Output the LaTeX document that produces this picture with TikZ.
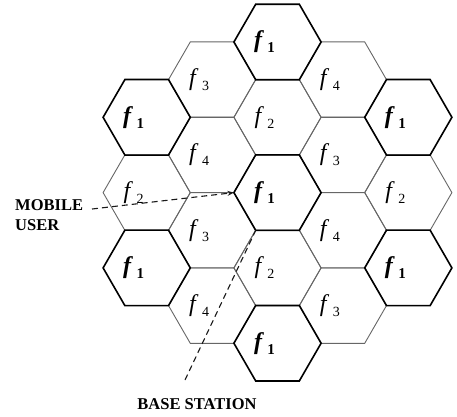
\documentclass[tikz,border=0pt]{standalone}
\usepackage{fontspec}
\setmainfont{Liberation Serif}
\usetikzlibrary{arrows.meta,shapes.geometric}
\newcommand{\fA}[1]{\textbf{\textit{f}}\kern3.5pt\raisebox{-5pt}{\fontsize{15}{15}\selectfont\textbf{#1}}}
\newcommand{\fB}[1]{\textit{f}\kern3.5pt\raisebox{-5pt}{\fontsize{14}{14}\selectfont #1}}

\begin{document}
\begin{tikzpicture}[x=1pt, y=-1pt,
  cell/.style={regular polygon, regular polygon sides=6, minimum size=87.2pt,
    inner sep=0pt, outer sep=0pt},
  plaincell/.style={cell, draw=black!60, line width=0.9pt},
  reusecell/.style={cell, draw=black, line width=1.6pt},
  tag/.style={xshift=-13pt, inner sep=0pt, font=\fontsize{24}{24}\selectfont},
  caption/.style={inner sep=0pt, font=\bfseries\fontsize{16.5}{20}\selectfont, align=left},
  lead/.style={black!90, line width=1.1pt, dash pattern=on 6pt off 4pt},
  arrow/.style={lead, -{Stealth[length=6.5pt, width=5pt]}}
]
  \useasboundingbox (0,0) rectangle (457,416);

  % Cells f2, f3, f4 (thin)
  \node[plaincell] (b1) at (212.1,79.65) {};
  \node[plaincell] (b2) at (212.1,154.95) {};
  \node[plaincell] (b3) at (212.1,230.25) {};
  \node[plaincell] (b4) at (212.1,305.55) {};
  \node[plaincell] (d1) at (342.9,79.65) {};
  \node[plaincell] (d2) at (342.9,154.95) {};
  \node[plaincell] (d3) at (342.9,230.25) {};
  \node[plaincell] (d4) at (342.9,305.55) {};
  \node[plaincell] (c2) at (277.5,117.3) {};
  \node[plaincell] (c4) at (277.5,267.9) {};
  \node[plaincell] (a2) at (146.7,192.6) {};
  \node[plaincell] (e2) at (408.3,192.6) {};

  % Cells f1 (thick)
  \node[reusecell] (c1) at (277.5,42) {};
  \node[reusecell] (c3) at (277.5,192.6) {};
  \node[reusecell] (c5) at (277.5,343.2) {};
  \node[reusecell] (a1) at (146.7,117.3) {};
  \node[reusecell] (a3) at (146.7,267.9) {};
  \node[reusecell] (e1) at (408.3,117.3) {};
  \node[reusecell] (e3) at (408.3,267.9) {};

  % Frequency tags
  \node[tag] (tc1) at (c1) {\fA{1}};
  \node[tag] (tc3) at (c3) {\fA{1}};
  \node[tag] (tc5) at (c5) {\fA{1}};
  \node[tag] (ta1) at (a1) {\fA{1}};
  \node[tag] (ta3) at (a3) {\fA{1}};
  \node[tag] (te1) at (e1) {\fA{1}};
  \node[tag] (te3) at (e3) {\fA{1}};
  \node[tag] (tc2) at (c2) {\fB{2}};
  \node[tag] (tc4) at (c4) {\fB{2}};
  \node[tag] (ta2) at (a2) {\fB{2}};
  \node[tag] (te2) at (e2) {\fB{2}};
  \node[tag] (tb1) at (b1) {\fB{3}};
  \node[tag] (tb3) at (b3) {\fB{3}};
  \node[tag] (td2) at (d2) {\fB{3}};
  \node[tag] (td4) at (d4) {\fB{3}};
  \node[tag] (tb2) at (b2) {\fB{4}};
  \node[tag] (tb4) at (b4) {\fB{4}};
  \node[tag] (td1) at (d1) {\fB{4}};
  \node[tag] (td3) at (d3) {\fB{4}};

  % Labels
  \node[caption, anchor=north west] (user) at (15,199) {MOBILE\\USER};
  \node[caption] (station) at (197,404) {BASE STATION};
  \coordinate (userend) at (92,209);
  \coordinate (stationend) at (185,380);

  % Pointers
  \draw[arrow] (userend) -- (c3.180);
  \draw[lead] (stationend) -- (c3.240);
\end{tikzpicture}
\end{document}
